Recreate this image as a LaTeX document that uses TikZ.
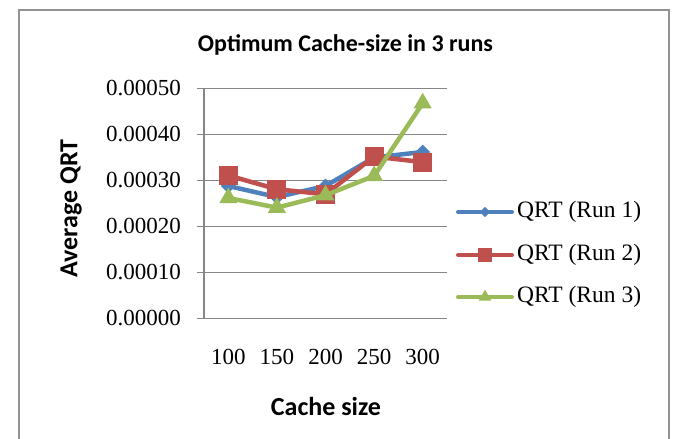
\documentclass[tikz,border=0pt]{standalone}
\usepackage{fontspec}
\setmainfont{Liberation Serif}
\newfontfamily\chartsans{Carlito}
\usepackage{tikz}
\usetikzlibrary{shapes.geometric, calc}
\definecolor{runblue}{RGB}{79,129,189}
\definecolor{runred}{RGB}{192,80,77}
\definecolor{rungreen}{RGB}{155,187,89}
\definecolor{gridgray}{RGB}{134,134,134}
\tikzset{
  gridline/.style={draw=gridgray, line width=1.6pt},
  framebox/.style={draw=gridgray!90, line width=1.5pt},
  ticklabel/.style={font=\fontsize{23}{26}\selectfont, inner sep=0pt},
  charttitle/.style={font=\chartsans\bfseries\fontsize{24}{28}\selectfont, inner sep=0pt},
  axistitle/.style={font=\chartsans\bfseries\fontsize{26}{30}\selectfont, inner sep=0pt},
  runline/.style={line width=4.5pt, line join=round, line cap=round},
  legendline/.style={line width=4pt, line cap=round},
  legendtext/.style={font=\fontsize{23.5}{27}\selectfont, anchor=west, inner sep=5pt},
  bluemark/.style={diamond, fill=runblue, minimum size=15pt, inner sep=0pt},
  redmark/.style={rectangle, fill=runred, minimum size=19pt, inner sep=0pt},
  greenmark/.style={regular polygon, regular polygon sides=3, fill=rungreen, minimum size=21pt, inner sep=0pt}
}

\begin{document}
\begin{tikzpicture}[x=1pt, y=1pt]
  \useasboundingbox (0,0) rectangle (675,439);
  % chart frame
  \draw[framebox] (19,0) -- (19,429) -- (669,429) -- (669,0);

  \node[charttitle] (title) at (345.5,394) {Optimum Cache-size in 3 runs};
  \node[axistitle, rotate=90] (ytitle) at (71,230.5) {Average QRT};
  \node[axistitle] (xtitle) at (326,32.5) {Cache size};

  % grid and axes
  \foreach \k/\t in {0/0.00000, 1/0.00010, 2/0.00020, 3/0.00030, 4/0.00040, 5/0.00050} {
    \coordinate (gl\k) at (197,120.5+46*\k);
    \coordinate (gr\k) at (447,120.5+46*\k);
    \draw[gridline] (gl\k) -- (gr\k);
    \node[ticklabel, anchor=east] (ylab\k) at (181,120.5+46*\k) {\t};
  }
  \draw[gridline] (204,120.5) -- (gl5 -| 204,0);
  \foreach \c [count=\i] in {100,150,200,250,300}
    \node[ticklabel] (xlab\i) at (204+48.6*\i-24.3,82) {\c};

  % data, in units of 0.0001
  \begin{scope}[shift={(204,120.5)}, x=48.6pt, y=46pt]
    \foreach \v [count=\i] in {2.88,2.64,2.88,3.5,3.62}
      \coordinate (b\i) at (\i-0.5,\v);
    \foreach \v [count=\i] in {3.11,2.81,2.7,3.52,3.4}
      \coordinate (r\i) at (\i-0.5,\v);
    \foreach \v [count=\i] in {2.62,2.41,2.68,3.1,4.68}
      \coordinate (g\i) at (\i-0.5,\v);
  \end{scope}

  \draw[runline, runblue] (b1) -- (b2) -- (b3) -- (b4) -- (b5);
  \foreach \i in {1,...,5} \node[bluemark] (bm\i) at (b\i) {};
  \draw[runline, runred] (r1) -- (r2) -- (r3) -- (r4) -- (r5);
  \foreach \i in {1,...,5} \node[redmark] (rm\i) at (r\i) {};
  \draw[runline, rungreen] (g1) -- (g2) -- (g3) -- (g4) -- (g5);
  \foreach \i in {1,...,5} \node[greenmark] (gm\i) at (g\i) {};

  % legend
  \foreach \n/\col/\mk/\y in {1/runblue/bluemark/227, 2/runred/redmark/184, 3/rungreen/greenmark/142} {
    \coordinate (leg\n) at (458,\y);
    \node[legendtext] (legtext\n) at (512,\y) {QRT (Run \n)};
    \draw[legendline, \col] (leg\n) -- (legtext\n.west);
    \node[\mk, scale=0.7] (legmark\n) at ($(leg\n)!0.5!(legtext\n.west)$) {};
  }
\end{tikzpicture}
\end{document}
